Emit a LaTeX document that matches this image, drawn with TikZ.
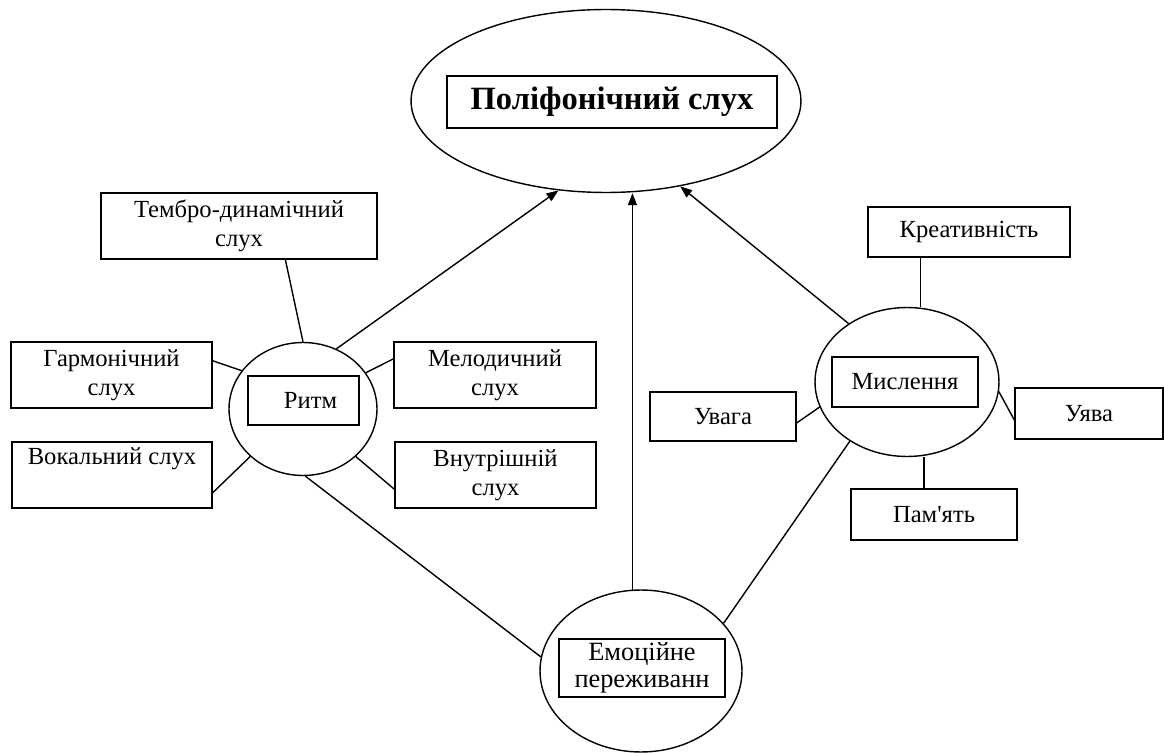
\documentclass[tikz,border=0pt]{standalone}
\usepackage{fontspec}
\setmainfont{Liberation Serif}[Ligatures=TeXOff]
\usetikzlibrary{shapes.geometric, arrows.meta}

\begin{document}
\begin{tikzpicture}[
    x=0.02cm, y=-0.02cm,
    line width=0.8pt,
    hub/.style={
        draw,
        ellipse,
        inner sep=0pt
    },
    tag/.style={
        draw,
        rectangle,
        inner sep=0pt,
        align=center,
        font=\fontsize{14}{16.5}\selectfont
    },
    arr/.style={
        -{Triangle[length=2.4mm, width=1.8mm]}
    }
]
\useasboundingbox (0,0) rectangle (1164,753);

% Title
\node[hub, minimum width=7.8cm, minimum height=3.66cm] (poly) at (606,101) {};
\node[tag, font=\fontsize{18.5}{21}\selectfont\bfseries, minimum width=6.6cm, minimum height=1.04cm] (polybox) at (612,102) {Поліфонічний слух};

% Rhythm (left)
\node[hub, minimum width=2.96cm, minimum height=2.66cm] (rhythm) at (303,409) {};
\node[tag, minimum width=2.22cm, minimum height=0.98cm] (rhythmbox) at (303.5,400.5) {\hspace{8pt}Ритм};

\node[tag, minimum width=5.52cm, minimum height=1.32cm] (timbre) at (239,226) {Тембро-динамічний\\слух};
\node[tag, minimum width=4.02cm, minimum height=1.32cm] (harm) at (111.5,375) {Гармонічний\\слух};
\node[tag, minimum width=4cm, minimum height=1.32cm] (vocal) at (112,475) {Вокальний слух\\\strut};
\node[tag, minimum width=4.04cm, minimum height=1.32cm] (melod) at (495,375) {Мелодичний\\слух};
\node[tag, minimum width=4.02cm, minimum height=1.32cm] (inner) at (495.5,475) {Внутрішній\\слух};

% Thinking (right)
\node[hub, minimum width=3.68cm, minimum height=2.98cm] (think) at (907,382) {};
\node[tag, minimum width=2.92cm, minimum height=1cm] (thinkbox) at (905,382) {Мислення};

\node[tag, minimum width=4.04cm, minimum height=1cm] (creat) at (969,232) {Креативність};
\node[tag, minimum width=2.92cm, minimum height=0.98cm] (attn) at (723,416.5) {Увага};
\node[tag, minimum width=2.96cm, minimum height=1.02cm] (imag) at (1089,413.5) {Уява};
\node[tag, minimum width=3.32cm, minimum height=1.02cm] (memory) at (934,514.5) {Пам'ять};

% Emotion (bottom)
\node[hub, minimum width=4.04cm, minimum height=3.24cm] (emo) at (641,671) {};
\node[tag, font=\fontsize{15}{15.5}\selectfont, minimum width=3.32cm, minimum height=1.16cm] (emobox) at (642,668) {Емоційне\\переживанн};

% Arrows to the top
\draw[arr] (rhythm.61) -- (poly.242);
\draw[arr] (emo.96) -- (emo.96 |- poly.south);
\draw[arr] (think.135) -- (poly.-49);

% Links round the rhythm
\draw (timbre.-36) -- (rhythm.north);
\draw (harm.8.5) -- (rhythm.148);
\draw (vocal.-10) -- (rhythm.222);
\draw (melod.171) -- (rhythm.30);
\draw (inner.188.5) -- (rhythm.-42);

% Links round the thinking
\draw (creat.208) -- (creat.208 |- think.north);
\draw (memory.111) -- (memory.111 |- think.south);
\draw (attn.-5) -- (think.196);
\draw (imag.185) -- (think.-6);

% Links to the emotion
\draw (rhythm.-88) -- (emo.172);
\draw (think.226) -- (emo.30);

\end{tikzpicture}
\end{document}
